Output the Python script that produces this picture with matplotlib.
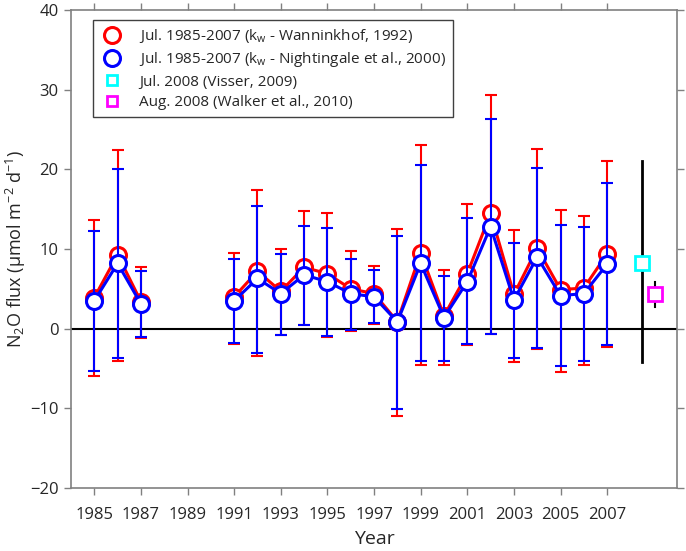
import numpy as np
import matplotlib
matplotlib.use("Agg")
import matplotlib.pyplot as plt
import matplotlib.lines as mlines

plt.rcParams['font.family'] = ['Open Sans', 'DejaVu Sans']
plt.rcParams['mathtext.fontset'] = 'custom'
plt.rcParams['mathtext.rm'] = 'Open Sans'
plt.rcParams['mathtext.it'] = 'Open Sans'
plt.rcParams['mathtext.default'] = 'regular'

nan = np.nan
years = [1985, 1986, 1987, 1988, 1989, 1990, 1991, 1992, 1993, 1994, 1995, 1996,
         1997, 1998, 1999, 2000, 2001, 2002, 2003, 2004, 2005, 2006, 2007]

# Wanninkhof (1992)
wan_mean = [3.9, 9.3, 3.4, nan, nan, nan, 4.0, 7.2, 4.7, 7.7, 6.9, 5.0,
            4.4, 0.9, 9.5, 1.6, 6.9, 14.5, 4.3, 10.1, 4.9, 5.1, 9.4]
wan_low = [-5.9, -4.0, -1.2, nan, nan, nan, -1.9, -3.4, -0.8, 0.4, -1.0, -0.3,
           0.6, -10.9, -4.6, -4.5, -2.0, -0.7, -4.2, -2.5, -5.4, -4.5, -2.3]
wan_high = [13.6, 22.4, 7.7, nan, nan, nan, 9.5, 17.4, 10.0, 14.8, 14.5, 9.8,
            7.9, 12.5, 23.1, 7.4, 15.6, 29.3, 12.4, 22.5, 14.9, 14.2, 21.0]

# Nightingale et al. (2000)
nig_mean = [3.5, 8.2, 3.1, nan, nan, nan, 3.5, 6.3, 4.4, 6.75, 5.9, 4.4,
            4.0, 0.85, 8.2, 1.4, 5.9, 12.8, 3.6, 9.0, 4.15, 4.4, 8.1]
nig_low = [-5.3, -3.7, -1.1, nan, nan, nan, -1.8, -3.0, -0.75, 0.46, -0.9, -0.2,
           0.7, -10.1, -4.1, -4.05, -1.9, -0.7, -3.65, -2.4, -4.7, -4.1, -2.1]
nig_high = [12.2, 20.0, 7.3, nan, nan, nan, 8.8, 15.4, 9.4, 12.9, 12.6, 8.8,
            7.4, 11.6, 20.5, 6.6, 13.9, 26.3, 10.7, 20.2, 13.0, 12.7, 18.3]

# 2008 observations
visser_x, visser_y, visser_low, visser_high = 2008.5, 8.3, -4.2, 21.1
walker_x, walker_y, walker_low, walker_high = 2009.05, 4.3, 2.7, 5.9

labels = ["Jul. 1985-2007 (k$_w$ - Wanninkhof, 1992)",
          "Jul. 1985-2007 (k$_w$ - Nightingale et al., 2000)",
          "Jul. 2008 (Visser, 2009)",
          "Aug. 2008 (Walker et al., 2010)"]
xticks = list(range(1985, 2008, 2))
yticks = list(range(-20, 41, 10))

fig = plt.figure(figsize=(6.86, 5.51), dpi=100)
ax = fig.add_axes([0.1035, 0.1143, 0.8835, 0.8676])

x = np.array(years, dtype=float)


def series(mean, low, high, color, z):
    m = np.array(mean); lo = np.array(low); hi = np.array(high)
    ok = ~np.isnan(m)
    ax.errorbar(x[ok], m[ok], yerr=[m[ok] - lo[ok], hi[ok] - m[ok]], fmt='none',
                ecolor=color, elinewidth=1.5, capsize=4.5, capthick=1.5, zorder=z)
    h, = ax.plot(x, m, '-o', color=color, lw=2.2, ms=11.5, mfc='white', mec=color,
                 mew=2.2, zorder=z + 0.5)
    return h

ax.axhline(0, color='black', lw=1.5, zorder=0.5)
series(wan_mean, wan_low, wan_high, '#ff0000', 2)
series(nig_mean, nig_low, nig_high, '#0000ff', 3)

ax.plot([visser_x, visser_x], [visser_low, visser_high], color='black', lw=2, zorder=4)
ax.plot([walker_x, walker_x], [walker_low, walker_high], color='black', lw=1.5, zorder=4)
ax.plot([visser_x], [visser_y], 's', ms=10, mfc='white', mec='#00ffff', mew=2, zorder=5)
ax.plot([walker_x], [walker_y], 's', ms=10, mfc='white', mec='#ff00ff', mew=2, zorder=5)

ax.set_xlim(1984, 2010)
ax.set_ylim(-20, 40)
ax.set_xticks(xticks)
ax.set_yticks(yticks)
ax.tick_params(direction='out', length=5, width=1, color='#808080', labelcolor='#262626',
               labelsize=12, top=True, right=True, labeltop=False, labelright=False)
ax.tick_params(axis='x', pad=9)
ax.tick_params(axis='y', pad=4)
for s in ax.spines.values():
    s.set_color('#808080')
    s.set_linewidth(1.2)

ax.set_xlabel('Year', fontsize=14, color='#262626', labelpad=5)
ax.set_ylabel('N$_2$O flux (μmol m$^{-2}$ d$^{-1}$)', fontsize=13, color='#262626',
              labelpad=1)

lh1 = mlines.Line2D([], [], ls='none', marker='o', ms=11.5, mfc='white', mec='#ff0000', mew=2.2)
lh2 = mlines.Line2D([], [], ls='none', marker='o', ms=11.5, mfc='white', mec='#0000ff', mew=2.2)
lh3 = mlines.Line2D([], [], ls='none', marker='s', ms=7, mfc='white', mec='#00ffff', mew=2)
lh4 = mlines.Line2D([], [], ls='none', marker='s', ms=7, mfc='white', mec='#ff00ff', mew=2)
leg = ax.legend([lh1, lh2, lh3, lh4], labels, loc='upper left',
                bbox_to_anchor=(0.036, 0.979), fontsize=11, frameon=True,
                fancybox=False, edgecolor='#404040', framealpha=1,
                handlelength=1.6, handletextpad=1.0, labelspacing=0.35,
                borderpad=0.45, borderaxespad=0)
leg.get_frame().set_linewidth(1)
for t in leg.get_texts():
    t.set_color('#262626')

fig.savefig('out.png', dpi=100)
